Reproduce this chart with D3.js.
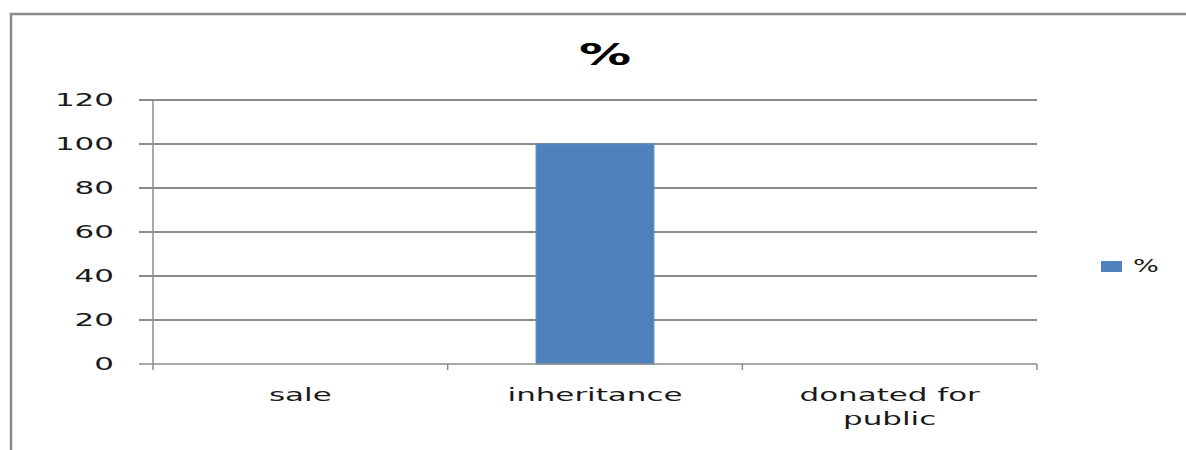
<!DOCTYPE html>
<html>
<head>
<meta charset="utf-8">
<script src="https://cdn.jsdelivr.net/npm/d3@7"></script>
<style>
  html, body { margin: 0; padding: 0; background: #fff; }
  svg { display: block; }
  text { font-family: "DejaVu Sans", sans-serif; }
</style>
</head>
<body>
<svg id="chart" width="1186" height="450"></svg>
<script>
// ---- data ----
const categories = ["sale", "inheritance", "donated for public"];
const values = [0, 100, 0];
const seriesName = "%";
const chartTitle = "%";
const yTicks = [0, 20, 40, 60, 80, 100, 120];

// ---- layout ----
const W = 1186, H = 450;
const plot = { left: 153, right: 1037, top: 100, bottom: 364 };
const SX = 1.72; // horizontal stretch of the text in the reference
const textColor = "#1a1a1a";
const gridColor = "#8c8c8c";
const barColor = "#4F81BD";

const svg = d3.select("#chart");

svg.append("rect").attr("width", W).attr("height", H).attr("fill", "#fff");

// outer chart frame (cropped at right/bottom)
svg.append("path")
  .attr("d", `M11,${H + 5} L11,14 L${W + 5},14`)
  .attr("fill", "none")
  .attr("stroke", "#8a8a8a")
  .attr("stroke-width", 2.5);

const x = d3.scaleBand().domain(categories).range([plot.left, plot.right]).paddingInner(0).paddingOuter(0);
const y = d3.scaleLinear().domain([0, 120]).range([plot.bottom, plot.top]);

function stretchedText(sel, px, py, sx) {
  return sel.attr("x", 0).attr("y", 0)
    .attr("transform", `translate(${px},${py}) scale(${sx},1)`);
}

// gridlines (extend left over the tick area)
svg.append("g").selectAll("line").data(yTicks.filter(t => t !== 0)).join("line")
  .attr("x1", 139).attr("x2", plot.right)
  .attr("y1", d => y(d)).attr("y2", d => y(d))
  .attr("stroke", gridColor).attr("stroke-width", 1.2)
  .attr("shape-rendering", "crispEdges");

// y tick labels
svg.append("g").selectAll("text").data(yTicks).join("text")
  .each(function (d) {
    stretchedText(d3.select(this), 114, y(d), SX);
  })
  .attr("text-anchor", "end")
  .attr("dy", "0.36em")
  .attr("font-size", 18)
  .attr("fill", textColor)
  .text(d => d);

// bars
const bw = x.bandwidth() * 0.4;
svg.append("g").selectAll("rect").data(categories).join("rect")
  .attr("x", d => x(d) + (x.bandwidth() - bw) / 2)
  .attr("width", bw)
  .attr("y", (d, i) => y(values[i]))
  .attr("height", (d, i) => y(0) - y(values[i]))
  .attr("fill", barColor)
  .attr("stroke", "#5a8cc6")
  .attr("stroke-width", 1);

// x axis line + ticks
const axisG = svg.append("g").attr("stroke", gridColor).attr("stroke-width", 1.5);
axisG.append("line").attr("x1", 139).attr("x2", plot.right).attr("y1", y(0)).attr("y2", y(0));
axisG.append("line").attr("x1", plot.left).attr("x2", plot.left).attr("y1", plot.top).attr("y2", y(0) + 6);
const xTickPos = categories.map(c => x(c)).concat([plot.right]);
axisG.selectAll("line.xt").data(xTickPos.slice(1)).join("line").attr("class", "xt")
  .attr("x1", d => d).attr("x2", d => d)
  .attr("y1", y(0)).attr("y2", y(0) + 6);

// category labels with wrapping
const labelG = svg.append("g");
const maxLabelWidth = x.bandwidth() * 0.8;
categories.forEach(c => {
  const cx = x(c) + x.bandwidth() / 2;
  const words = c.split(" ");
  const lines = [];
  let cur = [];
  const probe = labelG.append("text").attr("font-size", 18);
  words.forEach(w => {
    const test = cur.concat([w]).join(" ");
    probe.text(test);
    if (probe.node().getComputedTextLength() * SX > maxLabelWidth && cur.length) {
      lines.push(cur.join(" "));
      cur = [w];
    } else {
      cur.push(w);
    }
  });
  lines.push(cur.join(" "));
  probe.remove();
  lines.forEach((ln, i) => {
    labelG.append("text")
      .call(s => stretchedText(s, cx, 401 + i * 24, SX))
      .attr("text-anchor", "middle")
      .attr("font-size", 18)
      .attr("fill", textColor)
      .text(ln);
  });
});

// title
svg.append("text")
  .call(s => stretchedText(s, 605, 65, 1.68))
  .attr("text-anchor", "middle")
  .attr("font-size", 31)
  .attr("font-weight", "bold")
  .attr("fill", "#000")
  .text(chartTitle);

// legend
const lg = svg.append("g");
lg.append("rect").attr("x", 1101).attr("y", 261).attr("width", 21).attr("height", 11).attr("fill", barColor);
lg.append("text")
  .call(s => stretchedText(s, 1133, 266, 1.6))
  .attr("dy", "0.36em")
  .attr("font-size", 17)
  .attr("fill", textColor)
  .text(seriesName);
</script>
</body>
</html>
